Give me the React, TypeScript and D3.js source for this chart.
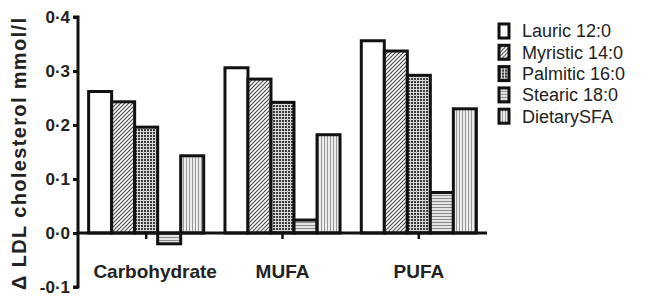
import React, { useRef, useEffect } from "react";
import * as d3 from "d3";

const groups = ["Carbohydrate", "MUFA", "PUFA"];
const series = ["Lauric 12:0", "Myristic 14:0", "Palmitic 16:0", "Stearic 18:0", "DietarySFA"];
const lauric = [0.262, 0.306, 0.356];
const myristic = [0.243, 0.285, 0.337];
const palmitic = [0.196, 0.242, 0.292];
const stearic = [-0.02, 0.024, 0.075];
const dietarySFA = [0.143, 0.182, 0.23];
const yTicks = [-0.1, 0, 0.1, 0.2, 0.3, 0.4];

const values = [lauric, myristic, palmitic, stearic, dietarySFA];
const fills = ["#ffffff", "url(#hatch)", "url(#check)", "url(#horiz)", "url(#vert)"];

const W = 645, H = 297;
const textCol = "#222";
const font = "Liberation Sans, Arial, sans-serif";

const App = () => {
  const svgRef = useRef<SVGSVGElement>(null);

  useEffect(() => {
    const svg = d3.select(svgRef.current);
    svg.selectAll("*").remove();

    // fill patterns
    const defs = svg.append("defs");
    const hatch = defs.append("pattern").attr("id", "hatch").attr("patternUnits", "userSpaceOnUse")
      .attr("width", 4).attr("height", 4);
    hatch.append("rect").attr("width", 4).attr("height", 4).attr("fill", "#fff");
    hatch.append("path").attr("d", "M-1,1 l2,-2 M0,4 l4,-4 M3,5 l2,-2")
      .attr("stroke", "#444").attr("stroke-width", 1.1);

    const check = defs.append("pattern").attr("id", "check").attr("patternUnits", "userSpaceOnUse")
      .attr("width", 3).attr("height", 3);
    check.append("rect").attr("width", 3).attr("height", 3).attr("fill", "#d8d8d8");
    check.append("rect").attr("width", 2).attr("height", 2).attr("fill", "#3a3a3a");

    const horiz = defs.append("pattern").attr("id", "horiz").attr("patternUnits", "userSpaceOnUse")
      .attr("width", 4).attr("height", 3);
    horiz.append("rect").attr("width", 4).attr("height", 3).attr("fill", "#e4e4e4");
    horiz.append("rect").attr("width", 4).attr("height", 1).attr("fill", "#8a8a8a");

    const vert = defs.append("pattern").attr("id", "vert").attr("patternUnits", "userSpaceOnUse")
      .attr("width", 3).attr("height", 4);
    vert.append("rect").attr("width", 3).attr("height", 4).attr("fill", "#ececec");
    vert.append("rect").attr("width", 1).attr("height", 4).attr("fill", "#999");

    const y = d3.scaleLinear().domain([-0.1, 0.4]).range([287, 17]);
    const x0 = d3.scaleBand().domain(groups).range([78, 487]).paddingInner(0.156).paddingOuter(0.078);
    const x1 = d3.scaleBand().domain(series).range([0, x0.bandwidth()]);

    // bars
    values.forEach((vals, si) => {
      svg.append("g").selectAll("rect")
        .data(vals)
        .join("rect")
        .attr("x", (d, i) => (x0(groups[i]) as number) + (x1(series[si]) as number))
        .attr("width", x1.bandwidth())
        .attr("y", d => y(Math.max(0, d)))
        .attr("height", d => Math.abs(y(d) - y(0)))
        .attr("fill", fills[si])
        .attr("stroke", "#111")
        .attr("stroke-width", 3);
    });

    // y axis
    const yAxis = d3.axisLeft(y).tickValues(yTicks).tickSize(5).tickPadding(3)
      .tickFormat(d => d3.format(".1f")(d as number).replace(".", "\u00b7").replace("\u2212", "-"));
    const ya = svg.append("g").attr("transform", "translate(78,0)").call(yAxis);
    ya.select(".domain").attr("stroke", "#111").attr("stroke-width", 3).attr("d", `M-5,${y(0.4)}H0V${y(-0.1)}H-5`);
    ya.selectAll(".tick line").attr("stroke", "#111").attr("stroke-width", 3);
    ya.selectAll(".tick text").attr("fill", textCol).attr("font-size", 17).attr("font-weight", "bold")
      .attr("font-family", font).attr("dy", "0.35em");

    // baseline with group ticks
    svg.append("line").attr("x1", 78).attr("x2", 487).attr("y1", y(0)).attr("y2", y(0))
      .attr("stroke", "#111").attr("stroke-width", 3);
    svg.append("g").selectAll("line").data(groups).join("line")
      .attr("x1", g => (x0(g) as number) + x0.bandwidth() / 2)
      .attr("x2", g => (x0(g) as number) + x0.bandwidth() / 2)
      .attr("y1", y(0)).attr("y2", y(0) + 6)
      .attr("stroke", "#111").attr("stroke-width", 2.5);

    // group labels
    svg.append("g").selectAll("text").data(groups).join("text")
      .attr("x", (g, i) => (x0(g) as number) + x0.bandwidth() / 2 + (i === 0 ? 9 : 0))
      .attr("y", 278)
      .attr("text-anchor", "middle")
      .attr("font-family", font)
      .attr("font-size", 19).attr("font-weight", "bold").attr("fill", textCol)
      .text(g => g);

    // y title
    svg.append("text")
      .attr("transform", "translate(26,154) rotate(-90)")
      .attr("text-anchor", "middle")
      .attr("font-family", font)
      .attr("font-size", 20).attr("font-weight", "bold").attr("fill", textCol)
      .attr("textLength", 272).attr("lengthAdjust", "spacing")
      .text("\u0394 LDL cholesterol mmol/l");

    // legend
    const lg = svg.append("g").selectAll("g").data(series).join("g")
      .attr("transform", (d, i) => `translate(499,${24 + i * 21.3})`);
    lg.append("rect").attr("width", 10).attr("height", 14)
      .attr("fill", (d, i) => fills[i]).attr("stroke", "#111").attr("stroke-width", 3);
    lg.append("text").attr("x", 23).attr("y", 7).attr("dy", "0.35em")
      .attr("font-family", font)
      .attr("font-size", 18).attr("fill", textCol)
      .text(d => d);
  }, []);

  return (
    <svg ref={svgRef} width={W} height={H}
      style={{ position: "absolute", left: 0, top: 0, background: "#fff" }} />
  );
};

export default App;
